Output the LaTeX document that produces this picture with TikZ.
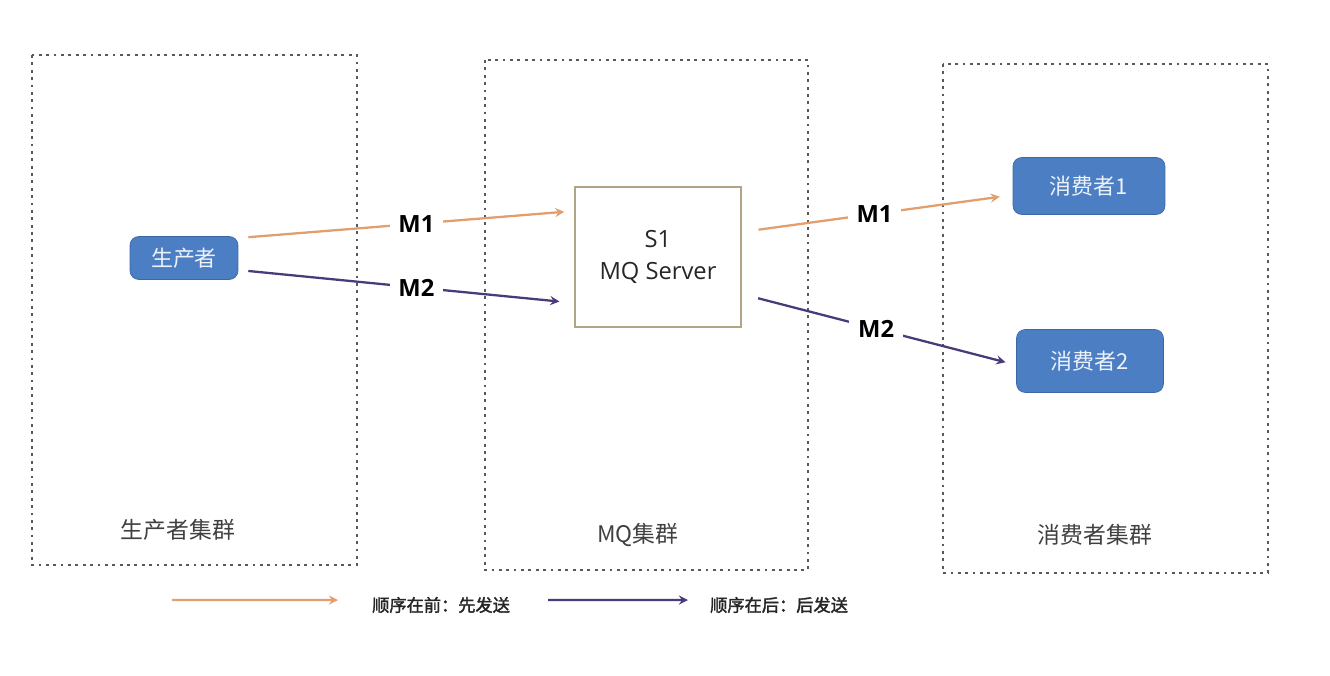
\documentclass[tikz,border=0pt]{standalone}
\usepackage{fontspec}
\setmainfont{Open Sans}
\newfontfamily\cjk{Noto Sans CJK SC}[AutoFakeBold=2]
\usepackage{tikz}
\usepackage{xcolor}
\usetikzlibrary{shapes.geometric, arrows}
\definecolor{nodeblue}{RGB}{76,126,196}
\definecolor{nodeedge}{RGB}{60,104,168}
\definecolor{firstcol}{RGB}{226,158,108}
\definecolor{latercol}{RGB}{74,58,122}
\definecolor{serveredge}{RGB}{176,166,134}
\tikzstyle{cluster} = [rectangle, draw=black!65, line width=1.6pt, dash pattern=on 1.6pt off 2.6pt]
\tikzstyle{client} = [rectangle, rounded corners=5pt, text centered, draw=nodeedge, fill=nodeblue, text=white!90!nodeblue, font=\cjk\fontsize{12.5}{14}\selectfont]
\tikzstyle{server} = [rectangle, minimum width=3.32cm, minimum height=2.8cm, text centered, align=center, draw=serveredge, line width=0.8pt, text=black!85, font=\fontsize{13.5}{18}\selectfont]
\tikzstyle{msg} = [fill=white, inner sep=5pt, text=black, font=\bfseries\fontsize{13.5}{15}\selectfont]
\tikzstyle{first} = [line width=1.3pt, draw=firstcol, ->, >=stealth]
\tikzstyle{later} = [line width=1.3pt, draw=latercol, ->, >=stealth]
\tikzstyle{clustertitle} = [text=black!75, font=\cjk\fontsize{13}{15}\selectfont]
\tikzstyle{legend} = [text=black!85, font=\cjk\bfseries\fontsize{9.8}{11}\selectfont]

\begin{document}
\begin{tikzpicture}[x=0.02cm, y=-0.02cm]
    \useasboundingbox (0,0) rectangle (1330,676);

    % clusters
    \draw [cluster] (32,55) rectangle (357,565);
    \draw [cluster] (485,60) rectangle (808,570);
    \draw [cluster] (943,64) rectangle (1268,573);
    \node (capprod) [clustertitle] at (178,530) {生产者集群};
    \node (capmq) [clustertitle] at (638,535) {MQ集群};
    \node (capcons) [clustertitle] at (1095,535) {消费者集群};

    % nodes
    \node (prod) [client, minimum width=2.16cm, minimum height=0.86cm, inner sep=2pt] at (184,258) {生产者};
    \node (mq) [server] at (658,257) {S1\\MQ Server};
    \node (cons1) [client, minimum width=3.04cm, minimum height=1.14cm] at (1089,186) {消费者1};
    \node (cons2) [client, minimum width=2.94cm, minimum height=1.26cm] at (1090,361) {消费者2};

    % messages
    \draw [first, shorten <=0.2cm, shorten >=0.2cm] ([yshift=0.4cm]prod.east) -- node[msg, pos=0.53] {M1} ([yshift=0.92cm]mq.west);
    \draw [later, shorten <=0.2cm, shorten >=0.3cm] ([yshift=-0.24cm]prod.east) -- node[msg, pos=0.53] {M2} ([yshift=-0.92cm]mq.west);
    \draw [first, shorten <=0.34cm, shorten >=0.26cm] ([yshift=0.5cm]mq.east) -- node[msg, pos=0.49] {M1} ([yshift=-0.18cm]cons1.west);
    \draw [later, shorten <=0.34cm, shorten >=0.22cm] ([yshift=-0.74cm]mq.east) -- node[msg, pos=0.49] {M2} ([yshift=-0.08cm]cons2.west);

    % legend
    \coordinate (firststart) at (172,600);
    \coordinate (laterstart) at (548,600);
    \node (firsttext) [legend, anchor=west] at (366,605) {顺序在前：先发送};
    \node (latertext) [legend, anchor=west] at (704,605) {顺序在后：后发送};
    \draw [first] (firststart) -- ([xshift=-0.56cm, yshift=0.1cm]firsttext.west);
    \draw [later] (laterstart) -- ([xshift=-0.32cm, yshift=0.1cm]latertext.west);
\end{tikzpicture}
\end{document}
